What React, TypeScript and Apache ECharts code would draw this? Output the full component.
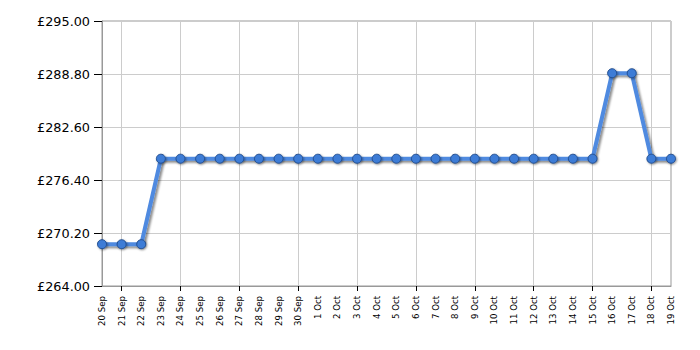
import React, { useEffect, useRef } from "react";
import * as echarts from "echarts";

const categories = [
  "20 Sep", "21 Sep", "22 Sep", "23 Sep", "24 Sep", "25 Sep", "26 Sep", "27 Sep", "28 Sep", "29 Sep", "30 Sep",
  "1 Oct", "2 Oct", "3 Oct", "4 Oct", "5 Oct", "6 Oct", "7 Oct", "8 Oct", "9 Oct", "10 Oct", "11 Oct",
  "12 Oct", "13 Oct", "14 Oct", "15 Oct", "16 Oct", "17 Oct", "18 Oct", "19 Oct",
];
const prices = [
  268.89, 268.89, 268.89, 278.89, 278.89, 278.89, 278.89, 278.89, 278.89, 278.89, 278.89,
  278.89, 278.89, 278.89, 278.89, 278.89, 278.89, 278.89, 278.89, 278.89, 278.89, 278.89,
  278.89, 278.89, 278.89, 278.89, 288.89, 288.89, 278.89, 278.89,
];
const yMin = 264;
const yMax = 295;
const yStep = 6.2;

export default function App() {
  const ref = useRef<HTMLDivElement>(null);
  useEffect(() => {
    if (!ref.current) return;
    const chart = echarts.init(ref.current, null, { renderer: "svg" });
    const every3 = (i: number) => i % 3 === 1;
    chart.setOption({
      animation: false,
      grid: {
        left: 102, right: 29, top: 21, bottom: 64,
        show: true, borderColor: "#999", borderWidth: 1,
      },
      xAxis: {
        type: "category",
        data: categories,
        boundaryGap: false,
        axisLine: { lineStyle: { color: "#999" } },
        axisTick: { interval: every3, length: 5, lineStyle: { color: "#000" } },
        axisLabel: {
          interval: 0, rotate: 90, fontFamily: "DejaVu Sans", fontSize: 8.6,
          color: "#000", margin: 10,
        },
        splitLine: { show: true, interval: every3, lineStyle: { color: "#ccc" } },
      },
      yAxis: {
        type: "value",
        min: yMin, max: yMax, interval: yStep,
        axisLine: { show: true, lineStyle: { color: "#999" } },
        axisTick: { show: true, length: 8, lineStyle: { color: "#000" } },
        axisLabel: {
          fontFamily: "DejaVu Sans", fontSize: 12.8, color: "#000", margin: 12,
          formatter: (v: number) => "£" + v.toFixed(2),
        },
        splitLine: { show: true, lineStyle: { color: "#ccc" } },
      },
      series: [
        {
          type: "line",
          data: prices,
          symbol: "circle",
          symbolSize: 9,
          lineStyle: {
            color: "#4f8ae0", width: 4,
            shadowColor: "rgba(0,0,0,0.45)", shadowOffsetX: 2, shadowOffsetY: 2, shadowBlur: 2,
          },
          itemStyle: {
            color: "#3d7bd6", borderColor: "#234f90", borderWidth: 1,
            shadowColor: "rgba(0,0,0,0.4)", shadowOffsetX: 1, shadowOffsetY: 1, shadowBlur: 2,
          },
        },
      ],
    });
    return () => chart.dispose();
  }, []);
  return <div ref={ref} style={{ width: 700, height: 350, position: "absolute", left: 0, top: 0 }} />;
}
